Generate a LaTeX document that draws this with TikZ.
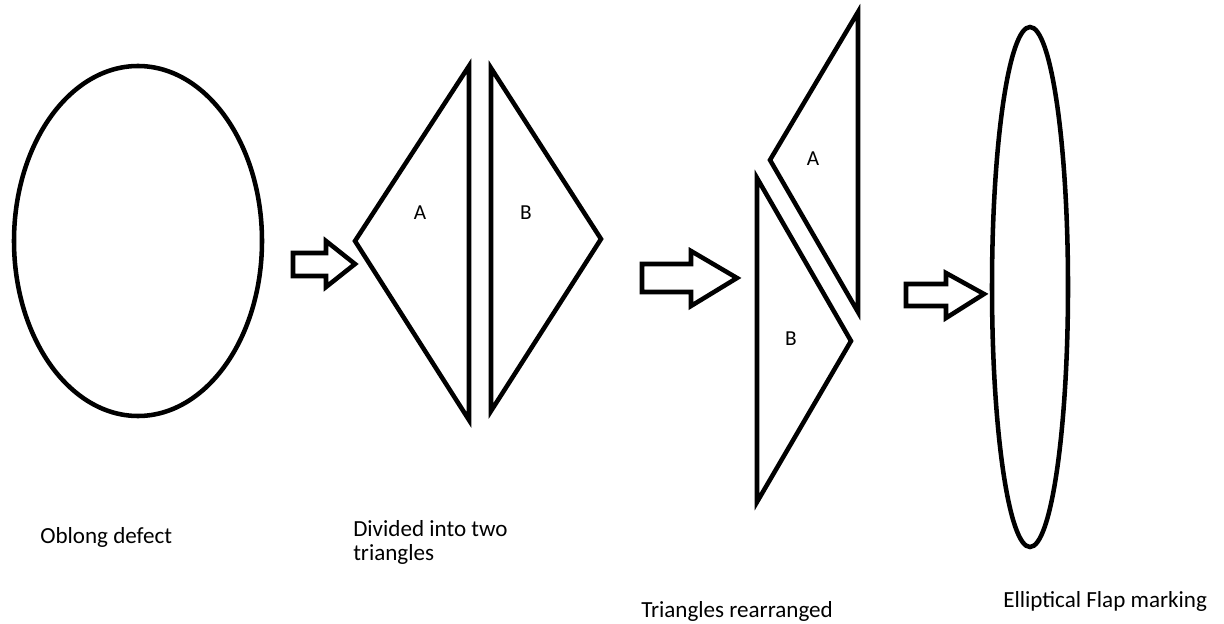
\documentclass[tikz,border=0pt]{standalone}
\usepackage{fontspec}
\setmainfont{Carlito}
\usetikzlibrary{shapes.geometric}
\begin{document}
\begin{tikzpicture}[x=0.75pt,y=-0.75pt,
  outline/.style={draw=black,line width=3.4pt,line join=miter},
  oval/.style={outline,ellipse,inner sep=0pt},
  blockarrow/.style={draw=black,line width=3.4pt,line join=miter,fill=white},
  caption/.style={anchor=base west,font=\fontsize{17.3}{17.3}\selectfont,inner sep=0pt,align=left},
  letter/.style={font=\fontsize{16}{18}\selectfont,inner sep=0pt}]
\useasboundingbox (0,0) rectangle (1224,624);
% oblong defect
\node[oval,minimum width=186pt,minimum height=262.5pt] (defect) at (138,241) {};
% arrow 1
\draw[blockarrow] (293,253) -- (326,253) -- (326,241) -- (355,264) -- (326,287) -- (326,276) -- (293,276) -- cycle;
% two triangles
\draw[outline] (469,66) -- (469,420) -- (355,241) -- cycle;
\draw[outline] (491,68) -- (491,411) -- (601,239) -- cycle;
\node[letter] (a1) at (420,213) {A};
\node[letter] (b1) at (526,213) {B};
% arrow 2
\draw[blockarrow] (642,264) -- (691,264) -- (691,251) -- (737,278) -- (691,306) -- (691,292) -- (642,292) -- cycle;
% rearranged triangles
\draw[outline] (858,12) -- (858,312) -- (770,160) -- cycle;
\draw[outline] (757,178) -- (757,502) -- (851,341) -- cycle;
\node[letter] (a2) at (813,159) {A};
\node[letter] (b2) at (791,339) {B};
% arrow 3
\draw[blockarrow] (906,284) -- (946,284) -- (946,273) -- (984,294) -- (946,318) -- (946,306) -- (906,306) -- cycle;
% elliptical flap
\node[oval,minimum width=57pt,minimum height=390pt] (flap) at (1030,287) {};
% captions
\node[caption] (c1) at (40,543) {Oblong defect};
\node[caption] (c2) at (353,560) {Divided into two\\triangles};
\node[caption] (c3) at (641,617) {Triangles rearranged};
\node[caption] (c4) at (1003,607) {Elliptical Flap marking};
\end{tikzpicture}
\end{document}
